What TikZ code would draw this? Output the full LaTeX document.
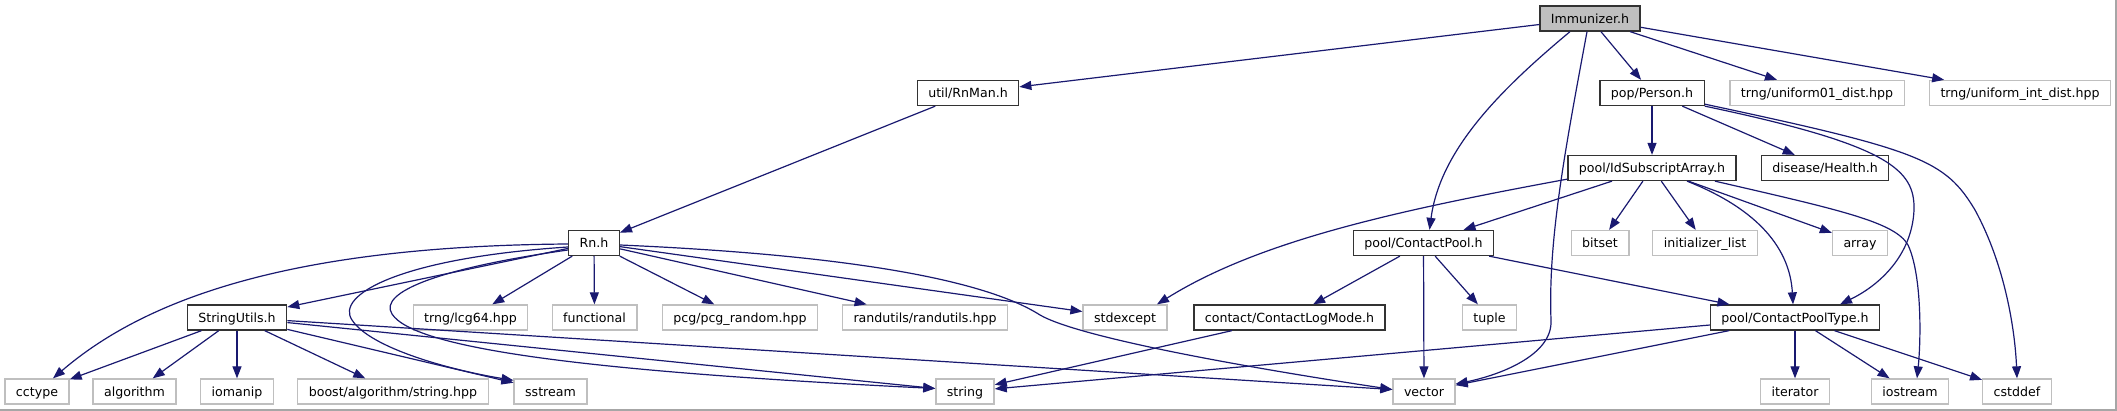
\documentclass[tikz,border=0pt]{standalone}
\usepackage{fontspec}
\setmainfont{DejaVu Sans}
\usetikzlibrary{arrows.meta, positioning, calc}
\definecolor{edgeblue}{HTML}{191970}
\definecolor{sysgray}{HTML}{BFBFBF}
\definecolor{maingray}{HTML}{BFBFBF}
\definecolor{framegray}{HTML}{A6A6A6}

\tikzset{
  srcbox/.style={draw=black!80, line width=1.3pt, fill=white, minimum height=25pt,
    inner xsep=11pt, inner ysep=0pt, text height=9.2pt, text depth=0pt,
    font=\fontsize{12.6}{15}\selectfont},
  sysbox/.style={srcbox, draw=sysgray},
  mainbox/.style={srcbox, fill=maingray},
  incl/.style={edgeblue, line width=1.2pt, -{Triangle[length=12pt, width=9pt]}},
}

\begin{document}
\begin{tikzpicture}[x=1pt, y=-1pt]

% Page and frame
\useasboundingbox (0,0) rectangle (2117,411);
\fill[white] (0,0) rectangle (2117,411);
\draw[framegray, line width=1.5pt] (0,410) -- (2116,410) -- (2116,0);

% Row 0
\node[mainbox] (imm) at (1590,18.5) {Immunizer.h};

% Row 1
\node[srcbox] (rnman)  at (968,93)  {util/RnMan.h};
\node[srcbox] (person) at (1652,93) {pop/Person.h};
\node[sysbox] (uni01)  at (1817,93) {trng/uniform01\_dist.hpp};
\node[sysbox] (uniint) at (2020,93) {trng/uniform\_int\_dist.hpp};

% Row 2
\node[srcbox] (idsub)  at (1652,168) {pool/IdSubscriptArray.h};
\node[srcbox] (health) at (1825,168) {disease/Health.h};

% Row 3
\node[srcbox] (rn)       at (594,243)    {Rn.h};
\node[srcbox] (cpool)    at (1423.5,243) {pool/ContactPool.h};
\node[sysbox] (bitset)   at (1600,243)   {bitset};
\node[sysbox] (initlist) at (1705,243)   {initializer\_list};
\node[sysbox] (array)    at (1860,243)   {array};

% Row 4
\node[srcbox] (strutil)    at (237,317.5)    {StringUtils.h};
\node[sysbox] (lcg)        at (470.5,317.5)  {trng/lcg64.hpp};
\node[sysbox] (functional) at (594.5,317.5)  {functional};
\node[sysbox] (pcg)        at (740,317.5)    {pcg/pcg\_random.hpp};
\node[sysbox] (randutils)  at (925,317.5)    {randutils/randutils.hpp};
\node[sysbox] (stdexcept)  at (1125,317.5)   {stdexcept};
\node[srcbox] (logmode)    at (1289.5,317.5) {contact/ContactLogMode.h};
\node[sysbox] (tuple)      at (1489.5,317.5) {tuple};
\node[srcbox] (cptype)     at (1795,317.5)   {pool/ContactPoolType.h};

% Row 5
\node[sysbox] (cctype)    at (37,391.5)    {cctype};
\node[sysbox] (algorithm) at (134.5,391.5) {algorithm};
\node[sysbox] (iomanip)   at (237,391.5)   {iomanip};
\node[sysbox] (boost)     at (393,391.5)   {boost/algorithm/string.hpp};
\node[sysbox] (sstream)   at (550.5,391.5) {sstream};
\node[sysbox] (string)    at (965,391.5)   {string};
\node[sysbox] (vector)    at (1424,391.5)  {vector};
\node[sysbox] (iterator)  at (1795,391.5)  {iterator};
\node[sysbox] (iostream)  at (1910,391.5)  {iostream};
\node[sysbox] (cstddef)   at (2017,391.5)  {cstddef};

% Straight includes
\foreach \a/\b in {imm/rnman, imm/person, imm/uni01, imm/uniint, rnman/rn,
    person/idsub, person/health, idsub/cpool, idsub/bitset, idsub/initlist,
    idsub/array, rn/strutil, rn/lcg, rn/functional, rn/pcg, rn/randutils,
    rn/stdexcept, strutil/cctype, strutil/algorithm, strutil/iomanip,
    strutil/boost, strutil/sstream, strutil/string, strutil/vector,
    cpool/logmode, cpool/vector, cpool/tuple, cpool/cptype, logmode/string,
    cptype/string, cptype/vector, cptype/iterator, cptype/iostream,
    cptype/cstddef}
  \draw[incl] (\a) -- (\b);

% Curved includes from Immunizer.h
\draw[incl] ([xshift=-20pt]imm.south) .. controls (1500,90) and (1440,150) .. ([xshift=6pt]cpool.north);
\draw[incl] ([xshift=-3pt]imm.south) .. controls (1565,150) and (1548,240) .. (1551,320)
  .. controls (1553,355) and (1500,375) .. ([yshift=7.5pt]vector.east);

% Curved includes from pop/Person.h
\draw[incl] (person.south east) .. controls (1890,145) and (1915,170) .. (1914,210)
  .. controls (1912,255) and (1880,285) .. ([xshift=45pt]cptype.north);
\draw[incl] ([yshift=2pt]person.south east) .. controls (1920,150) and (1945,160) .. (1975,210)
  .. controls (2005,265) and (2015,330) .. (cstddef.north);

% Curved includes from pool/IdSubscriptArray.h
\draw[incl] ([yshift=2pt]idsub.south west) .. controls (1400,210) and (1260,240) .. ([xshift=32pt]stdexcept.north);
\draw[incl] ([xshift=35pt]idsub.south) .. controls (1760,210) and (1790,250) .. ([xshift=-2pt]cptype.north);
\draw[incl] ([xshift=63pt]idsub.south) .. controls (1840,210) and (1895,222) .. (1908,245)
  .. controls (1922,275) and (1921,340) .. ([xshift=7pt]iostream.north);

% Curved includes from Rn.h
\draw[incl] ([yshift=-1pt]rn.west) .. controls (300,246) and (150,295) .. ([xshift=16pt]cctype.north);
\draw[incl] ([yshift=-4pt]rn.west) .. controls (400,258) and (335,295) .. (352,320)
  .. controls (370,348) and (450,370) .. ([yshift=-2pt]sstream.north west);
\draw[incl] ([yshift=-7pt]rn.west) .. controls (440,268) and (378,292) .. (392,314)
  .. controls (415,350) and (600,372) .. ([yshift=3pt]string.west);
\draw[incl] ([yshift=-2pt]rn.east) .. controls (850,255) and (985,280) .. (1040,315)
  .. controls (1080,338) and (1250,368) .. ([yshift=2pt]vector.west);

\end{tikzpicture}
\end{document}
